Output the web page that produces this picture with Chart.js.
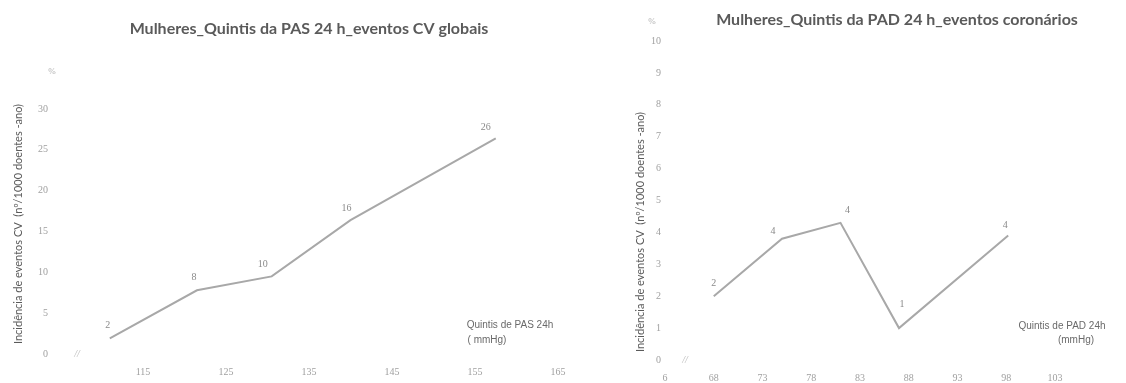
<!DOCTYPE html>
<html>
<head>
<meta charset="utf-8">
<script src="https://cdn.jsdelivr.net/npm/chart.js@4.4.1/dist/chart.umd.min.js"></script>
<style>
  html, body { margin: 0; padding: 0; background: #ffffff; }
  #wrap { position: relative; width: 1126px; height: 383px; overflow: hidden; }
  .panel { position: absolute; top: 0; height: 383px; }
  #left { left: 0; width: 590px; }
  #right { left: 590px; width: 536px; }
</style>
</head>
<body>
<div id="wrap">
  <div class="panel" id="left"><canvas id="pasChart" width="590" height="383"></canvas></div>
  <div class="panel" id="right"><canvas id="padChart" width="536" height="383"></canvas></div>
</div>
<script>
// Systolic (PAS) quintiles: midpoint of each quintile (mmHg) and incidence
const pasQuintiles = [111, 121.5, 130.5, 140, 157.5];
const pasIncidence = [1.9, 7.8, 9.5, 16.4, 26.4];
const pasXTicks = [115, 125, 135, 145, 155, 165];
const pasXTickLabels = ['115', '125', '135', '145', '155', '165'];
const pasYTicks = [0, 5, 10, 15, 20, 25, 30];

// Diastolic (PAD) quintiles: midpoint of each quintile (mmHg) and incidence
const padQuintiles = [68, 75, 81, 87, 98.2];
const padIncidence = [2.0, 3.8, 4.3, 1.0, 3.9];
const padXTicks = [63, 68, 73, 78, 83, 88, 93, 98, 103];
const padXTickLabels = ['6', '68', '73', '78', '83', '88', '93', '98', '103'];
const padYTicks = [0, 1, 2, 3, 4, 5, 6, 7, 8, 9, 10];

const titles = {
  pas: 'Mulheres_Quintis da PAS 24 h_eventos CV globais',
  pad: 'Mulheres_Quintis da PAD 24 h_eventos coronários'
};
const yAxisTitle = 'Incidência de eventos CV  (nº/1000 doentes -ano)';

const LINE = '#a8a8a8';
const TICK_COLOR = '#a0a0a0';
const TEXT_DARK = '#5a5a5a';
const serifTick = { family: '"Liberation Serif", "DejaVu Serif", serif', size: 10 };

// Free text around the plot: title, axis captions, unit sign, axis break
const captionPlugin = {
  id: 'captions',
  afterDraw(chart, args, opts) {
    const ctx = chart.ctx;
    (opts.items || []).forEach(it => {
      ctx.save();
      ctx.font = it.font;
      ctx.fillStyle = it.color;
      ctx.textAlign = it.align || 'center';
      ctx.textBaseline = 'middle';
      ctx.translate(it.x, it.y);
      if (it.rotate) ctx.rotate(it.rotate);
      ctx.fillText(it.text, 0, 0);
      ctx.restore();
    });
  }
};

// Value labels next to each vertex of the line (offset per vertex)
const valueLabelPlugin = {
  id: 'valueLabels',
  afterDatasetsDraw(chart, args, opts) {
    const ctx = chart.ctx;
    chart.data.datasets.forEach((ds, i) => {
      const meta = chart.getDatasetMeta(i);
      meta.data.forEach((pt, j) => {
        const v = ds.data[j].y;
        const off = opts.offsets[j] || [-5, -13];
        ctx.save();
        ctx.font = '10px "Liberation Serif", serif';
        ctx.fillStyle = '#8a8a8a';
        ctx.textAlign = 'center';
        ctx.textBaseline = 'middle';
        ctx.fillText(String(Math.round(v)), pt.x + off[0], pt.y + off[1]);
        ctx.restore();
      });
    });
  }
};

function fixedTicks(values) {
  return scale => { scale.ticks = values.map(v => ({ value: v })); };
}

function buildChart(canvasId, cfg) {
  const points = cfg.xs.map((x, i) => ({ x: x, y: cfg.ys[i] }));
  return new Chart(document.getElementById(canvasId), {
    type: 'line',
    data: {
      datasets: [{
        data: points,
        borderColor: LINE,
        borderWidth: 2,
        pointRadius: 0,
        tension: 0,
        fill: false
      }]
    },
    options: {
      responsive: false,
      animation: false,
      events: [],
      layout: { padding: cfg.padding },
      plugins: {
        legend: { display: false },
        tooltip: { enabled: false },
        title: { display: false },
        captions: { items: cfg.captions },
        valueLabels: { offsets: cfg.labelOffsets }
      },
      scales: {
        x: {
          type: 'linear',
          min: cfg.xMin,
          max: cfg.xMax,
          grid: { display: false, drawTicks: false },
          border: { display: false },
          afterBuildTicks: fixedTicks(cfg.xTicks),
          afterFit: s => { s.height = cfg.xHeight; },
          ticks: {
            font: serifTick,
            color: TICK_COLOR,
            padding: cfg.xPad,
            maxRotation: 0,
            autoSkip: false,
            callback: v => cfg.xLabels[cfg.xTicks.indexOf(v)]
          }
        },
        y: {
          min: cfg.yMin,
          max: cfg.yMax,
          grid: { display: false, drawTicks: false },
          border: { display: false },
          afterBuildTicks: fixedTicks(cfg.yTicks),
          afterFit: s => { s.width = cfg.yWidth; },
          ticks: {
            font: serifTick,
            color: TICK_COLOR,
            padding: cfg.yPad,
            autoSkip: false,
            callback: v => String(v)
          }
        }
      }
    },
    plugins: [captionPlugin, valueLabelPlugin]
  });
}

const titleFont = 'bold 16px Lato, "Open Sans", sans-serif';
const axisTitleFont = '11px Lato, "Open Sans", sans-serif';
const quintFont = '10px "Liberation Sans", Arial, sans-serif';
const breakFont = 'italic 10px "Liberation Serif", serif';

buildChart('pasChart', {
  xs: pasQuintiles, ys: pasIncidence,
  xMin: 105, xMax: 165, xTicks: pasXTicks, xLabels: pasXTickLabels,
  yMin: 0, yMax: 30, yTicks: pasYTicks,
  padding: { left: 0, right: 32, top: 109, bottom: 0 },
  xHeight: 29, yWidth: 60, xPad: 12, yPad: 12,
  labelOffsets: [[-2, -13], [-3, -13], [-9, -12], [-4, -12], [-10, -11]],
  captions: [
    { text: titles.pas, x: 309, y: 29, font: titleFont, color: TEXT_DARK },
    { text: yAxisTitle, x: 18, y: 224, font: axisTitleFont, color: TEXT_DARK, rotate: -Math.PI / 2 },
    { text: '%', x: 52, y: 72, font: '9px "Liberation Serif", serif', color: '#b0b0b0' },
    { text: '//', x: 77, y: 354, font: breakFont, color: '#b8b8b8' },
    { text: 'Quintis de PAS 24h', x: 510, y: 325, font: quintFont, color: '#6a6a6a' },
    { text: '( mmHg)', x: 487, y: 340, font: quintFont, color: '#6a6a6a' }
  ]
});

buildChart('padChart', {
  xs: padQuintiles, ys: padIncidence,
  xMin: 63, xMax: 103, xTicks: padXTicks, xLabels: padXTickLabels,
  yMin: 0, yMax: 10, yTicks: padYTicks,
  padding: { left: 0, right: 71, top: 41, bottom: 0 },
  xHeight: 23, yWidth: 75, xPad: 12, yPad: 4,
  labelOffsets: [[0, -13], [-9, -7], [7, -12], [3, -24], [-3, -10]],
  captions: [
    { text: titles.pad, x: 307, y: 20, font: titleFont, color: TEXT_DARK },
    { text: yAxisTitle, x: 50, y: 232, font: axisTitleFont, color: TEXT_DARK, rotate: -Math.PI / 2 },
    { text: '%', x: 62, y: 22, font: '9px "Liberation Serif", serif', color: '#b0b0b0' },
    { text: '//', x: 95, y: 360, font: breakFont, color: '#b8b8b8' },
    { text: 'Quintis de PAD 24h', x: 472, y: 326, font: quintFont, color: '#6a6a6a' },
    { text: '(mmHg)', x: 486, y: 340, font: quintFont, color: '#6a6a6a' }
  ]
});
</script>
</body>
</html>
